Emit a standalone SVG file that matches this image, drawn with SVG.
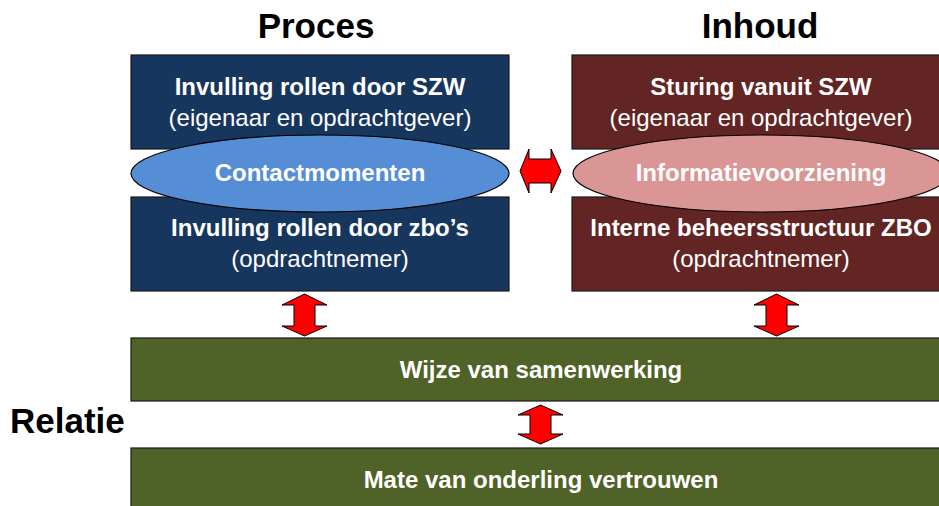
<svg xmlns="http://www.w3.org/2000/svg" width="939" height="506" viewBox="0 0 939 506">
<style>
.t{font-family:"Liberation Sans",Arial,sans-serif;fill:#fff;text-anchor:middle;font-size:24px}
.b{font-weight:bold}
.h{font-family:"Liberation Sans",Arial,sans-serif;fill:#000;font-weight:bold;font-size:35px}
.box{stroke:#1a1a1a;stroke-width:1.2}
.arr{fill:#ff0000;stroke:#000;stroke-width:1}
</style>
<rect width="939" height="506" fill="#fff"/>
<text class="h" x="316" y="38" text-anchor="middle">Proces</text>
<text class="h" x="760" y="38" text-anchor="middle">Inhoud</text>
<text class="h" x="10" y="433">Relatie</text>

<g id="proces-szw">
<rect class="box" x="131" y="55" width="378" height="94" fill="#17365d"/>
<text class="t b" x="320" y="95">Invulling rollen door SZW</text>
<text class="t" x="320" y="126">(eigenaar en opdrachtgever)</text>
</g>
<g id="proces-zbo">
<rect class="box" x="131" y="197" width="378" height="94" fill="#17365d"/>
<text class="t b" x="320" y="236">Invulling rollen door zbo’s</text>
<text class="t" x="320" y="267">(opdrachtnemer)</text>
</g>
<g id="contactmomenten">
<ellipse cx="320" cy="173.5" rx="189" ry="38.5" fill="#558ed5" stroke="#000" stroke-width="1.2"/>
<text class="t b" x="320" y="181">Contactmomenten</text>
</g>

<g id="inhoud-szw">
<rect class="box" x="572" y="55" width="378" height="94" fill="#632523"/>
<text class="t b" x="761" y="95">Sturing vanuit SZW</text>
<text class="t" x="761" y="126">(eigenaar en opdrachtgever)</text>
</g>
<g id="inhoud-zbo">
<rect class="box" x="572" y="197" width="378" height="94" fill="#632523"/>
<text class="t b" x="761" y="236">Interne beheersstructuur ZBO</text>
<text class="t" x="761" y="267">(opdrachtnemer)</text>
</g>
<g id="informatievoorziening">
<ellipse cx="761" cy="173.5" rx="188" ry="38.5" fill="#d99694" stroke="#000" stroke-width="1.2"/>
<text class="t b" x="761" y="181">Informatievoorziening</text>
</g>

<g id="samenwerking">
<rect class="box" x="131" y="338" width="820" height="63" fill="#4f6228"/>
<text class="t b" x="541" y="378">Wijze van samenwerking</text>
</g>
<g id="vertrouwen">
<rect class="box" x="131" y="448" width="820" height="63" fill="#4f6228"/>
<text class="t b" x="541" y="488">Mate van onderling vertrouwen</text>
</g>

<g id="connectors">
<path class="arr" d="M520,171 L529,149 L529,159 L551,159 L551,149 L561,171 L551,193 L551,183 L529,183 L529,193 Z"/>
<path class="arr" d="M304.5,294 L327,305 L315,305 L315,326 L327,326 L304.5,336 L282,326 L294,326 L294,305 L282,305 Z"/>
<path class="arr" d="M776.5,294 L799,305 L787,305 L787,326 L799,326 L776.5,336 L754,326 L766,326 L766,305 L754,305 Z"/>
<path class="arr" d="M540.5,405 L563,415 L551,415 L551,434 L563,434 L540.5,444 L518,434 L530,434 L530,415 L518,415 Z"/>
</g>
</svg>
